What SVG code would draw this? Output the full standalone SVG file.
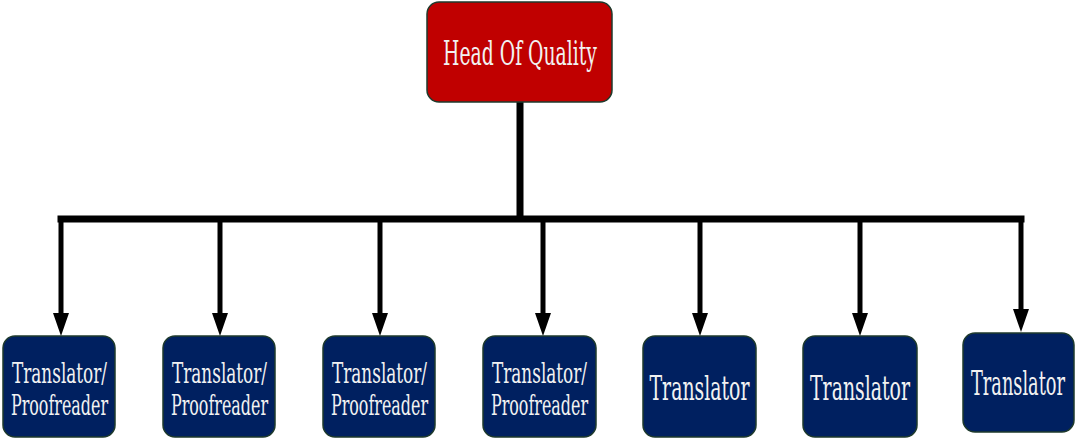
<svg xmlns="http://www.w3.org/2000/svg" width="1076" height="439" viewBox="0 0 1076 439">
  <style>
    .head { fill: #c00000; stroke: #1e3a2c; stroke-width: 1.5; }
    .box { fill: #002060; stroke: #1e3a2c; stroke-width: 1.5; }
    .lbl { fill: #f2f2f2; font-family: "DejaVu Serif Condensed", "DejaVu Serif", "Liberation Serif", serif; font-stretch: condensed; text-anchor: middle; }
    .two { font-size: 27px; }
    .one { font-size: 33px; }
    .bus { stroke: #000; stroke-width: 7; fill: none; }
    .drop { stroke: #000; stroke-width: 5; fill: none; marker-end: url(#arrow); }
  </style>
  <defs>
    <marker id="arrow" markerUnits="userSpaceOnUse" viewBox="0 -8.5 24 17" refX="0" refY="0" markerWidth="24" markerHeight="17" orient="auto">
      <path d="M0,-8 L23,0 L0,8 z" fill="#000"/>
    </marker>
  </defs>

  <rect width="1076" height="439" fill="#ffffff"/>

  <g id="connectors">
    <path class="bus" d="M520,102 V219 M57.5,219 H1024.5"/>
    <path class="drop" d="M61,219 V313"/>
    <path class="drop" d="M220,219 V313"/>
    <path class="drop" d="M380,219 V313"/>
    <path class="drop" d="M543,219 V313"/>
    <path class="drop" d="M700,219 V313"/>
    <path class="drop" d="M860,219 V313"/>
    <path class="drop" d="M1021,219 V309"/>
  </g>

  <g id="head-of-quality">
    <rect class="head" x="427" y="2" width="185" height="100" rx="12"/>
    <text class="lbl one" x="520" y="65" textLength="154" lengthAdjust="spacingAndGlyphs">Head Of Quality</text>
  </g>

  <g id="translator-proofreader-1">
    <rect class="box" x="3" y="336" width="112" height="101" rx="12"/>
    <text class="lbl two" x="59.5" y="383" textLength="95" lengthAdjust="spacingAndGlyphs">Translator/</text>
    <text class="lbl two" x="59.5" y="415" textLength="97" lengthAdjust="spacingAndGlyphs">Proofreader</text>
  </g>

  <g id="translator-proofreader-2">
    <rect class="box" x="163" y="336" width="112" height="101" rx="12"/>
    <text class="lbl two" x="219.5" y="383" textLength="95" lengthAdjust="spacingAndGlyphs">Translator/</text>
    <text class="lbl two" x="219.5" y="415" textLength="97" lengthAdjust="spacingAndGlyphs">Proofreader</text>
  </g>

  <g id="translator-proofreader-3">
    <rect class="box" x="323" y="336" width="112" height="101" rx="12"/>
    <text class="lbl two" x="379.5" y="383" textLength="95" lengthAdjust="spacingAndGlyphs">Translator/</text>
    <text class="lbl two" x="379.5" y="415" textLength="97" lengthAdjust="spacingAndGlyphs">Proofreader</text>
  </g>

  <g id="translator-proofreader-4">
    <rect class="box" x="483" y="336" width="113" height="101" rx="12"/>
    <text class="lbl two" x="539.5" y="383" textLength="95" lengthAdjust="spacingAndGlyphs">Translator/</text>
    <text class="lbl two" x="539.5" y="415" textLength="97" lengthAdjust="spacingAndGlyphs">Proofreader</text>
  </g>

  <g id="translator-1">
    <rect class="box" x="643" y="336" width="113" height="101" rx="12"/>
    <text class="lbl one" x="699.5" y="400" textLength="100" lengthAdjust="spacingAndGlyphs">Translator</text>
  </g>

  <g id="translator-2">
    <rect class="box" x="803" y="336" width="114" height="101" rx="12"/>
    <text class="lbl one" x="860" y="400" textLength="100" lengthAdjust="spacingAndGlyphs">Translator</text>
  </g>

  <g id="translator-3">
    <rect class="box" x="963" y="333" width="111" height="99" rx="12"/>
    <text class="lbl one" x="1018" y="395" textLength="94" lengthAdjust="spacingAndGlyphs">Translator</text>
  </g>
</svg>
